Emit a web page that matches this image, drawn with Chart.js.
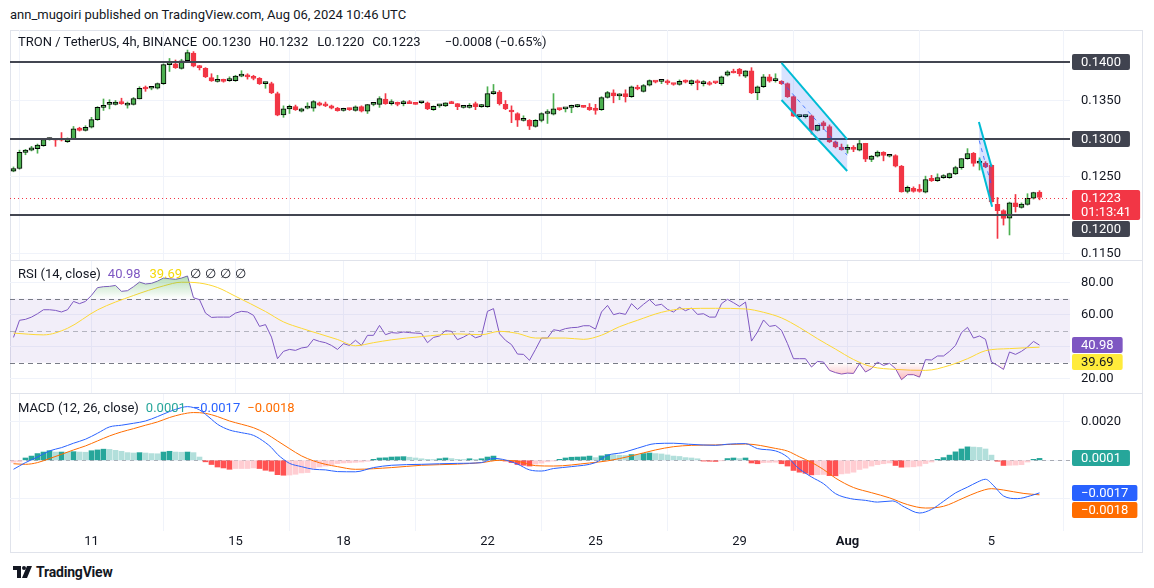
<!DOCTYPE html>
<html>
<head>
<meta charset="utf-8">
<script src="https://cdn.jsdelivr.net/npm/chart.js@4.4.1/dist/chart.umd.min.js"></script>
<style>
  body { margin: 0; background: #fff; width: 1154px; height: 588px; overflow: hidden;
         font-family: Roboto, "Noto Sans", sans-serif; color: #131722; }
  .abs { position: absolute; }
  canvas { position: absolute; left: 10px; }
  .lg { position: absolute; left: 18px; font-size: 13px; line-height: 18px; white-space: nowrap; }
  .lg span { margin-left: 7px; }
  .sep { position: absolute; left: 10px; width: 1133px; height: 1px; background: #e0e3eb; }
</style>
</head>
<body>
<div class="abs" style="left:10px;top:6px;font-size:13px;line-height:18px">ann_mugoiri published on TradingView.com, Aug 06, 2024 10:46 UTC</div>
<div class="abs" style="left:10px;top:30px;width:1133px;height:523px;border:1px solid #e0e3eb;box-sizing:border-box"></div>

<canvas id="main" width="1133" height="230" style="top:30px"></canvas>
<canvas id="rsi" width="1133" height="133" style="top:260px"></canvas>
<canvas id="macd" width="1133" height="160" style="top:393px"></canvas>
<div class="sep" style="top:260px"></div>
<div class="sep" style="top:393px"></div>

<div class="lg" style="top:33px">TRON / TetherUS, 4h, BINANCE<span style="margin-left:5px">O0.1230</span><span style="margin-left:8px">H0.1232</span><span style="margin-left:9px">L0.1220</span><span style="margin-left:8px">C0.1223</span><span style="margin-left:24px">−0.0008 (−0.65%)</span></div>
<div class="lg" style="top:265px">RSI (14, close)<span style="color:#7e57c2">40.98</span><span style="color:#f5d90a;margin-left:9px">39.69</span><span style="letter-spacing:4px;margin-left:8px">∅∅∅∅</span></div>
<div class="lg" style="top:399px">MACD (12, 26, close)<span style="color:#26a69a">0.0001</span><span style="color:#2962ff">−0.0017</span><span style="color:#ff6d00">−0.0018</span></div>

<div class="abs" style="left:13px;top:564px;display:flex;align-items:center;font-size:14px;font-weight:700;letter-spacing:-0.2px">
  <svg width="19" height="12" viewBox="0 0 19 12" style="margin-right:4px"><path d="M0 0h8v12H4V4H0z" fill="#131722"/><circle cx="11" cy="2" r="2" fill="#131722"/><path d="M14 0h5l-5 12H9z" fill="#131722"/></svg>TradingView
</div>

<script>
const FONT = 'Roboto, "Noto Sans", sans-serif';
Chart.defaults.font.family = FONT;

// x positions: one slot per 4h candle, day ticks at the 00:00 candle
const DAY_IDX = [13, 37, 55, 79, 97, 121, 139, 163];
const DAY_LABELS = ['11', '15', '18', '22', '25', '29', 'Aug', '5'];

const OPEN = [0.12575,0.1261,0.1282,0.1285,0.1287,0.1291,0.1299,0.1300,0.1299,0.1296,0.1300,0.1314,0.1311,0.1315,0.1325,0.1341,0.1345,0.1345,0.1348,0.1344,
0.1345,0.1352,0.1367,0.1366,0.1366,0.1372,0.1397,0.1398,0.1392,0.1402,0.1412,0.1395,0.1392,0.1380,0.1375,0.1377,0.1376,0.1376,0.1382,0.1383,
0.1381,0.1379,0.1372,0.1372,0.1359,0.1331,0.1339,0.1342,0.1336,0.1340,0.1340,0.1347,0.1344,0.1343,0.1340,0.1337,0.1339,0.1337,0.1342,0.1336,
0.1345,0.1345,0.1352,0.1346,0.1347,0.1346,0.1348,0.1346,0.1347,0.1347,0.1338,0.1343,0.1343,0.1348,0.1346,0.1341,0.1341,0.1346,0.1342,0.1342,
0.1359,0.1361,0.1345,0.1337,0.1333,0.1324,0.1324,0.1316,0.1324,0.1333,0.1332,0.1340,0.1339,0.1341,0.1342,0.1342,0.1341,0.1340,0.1338,0.1354,
0.1360,0.1356,0.1359,0.1355,0.1367,0.1362,0.1370,0.1375,0.1375,0.1375,0.1372,0.1371,0.1375,0.1372,0.1375,0.1372,0.1373,0.13735,0.1372,0.1383,
0.1388,0.1391,0.1382,0.1389,0.1360,0.1368,0.1381,0.1376,0.1375,0.1372,0.1355,0.1329,0.1329,0.1330,0.1311,0.1321,0.1316,0.1296,0.1289,0.1286,
0.1288,0.1285,0.1294,0.1273,0.1277,0.1282,0.1277,0.1278,0.1264,0.1231,0.1235,0.1234,0.1230,0.1248,0.1245,0.1249,0.1249,0.1254,0.1262,0.1274,
0.1281,0.1268,0.1268,0.1265,0.1214,0.1206,0.1196,0.1216,0.1210,0.1214,0.1222,0.1230];
const HIGH = [0.1263,0.1285,0.1286,0.1290,0.1293,0.1300,0.1301,0.1300,0.1308,0.1301,0.1316,0.1315,0.1317,0.1328,0.1342,0.1352,0.1351,0.1350,0.1353,0.1348,
0.1354,0.1368,0.1369,0.1368,0.1373,0.1398,0.1405,0.1403,0.1404,0.1416,0.1414,0.1396,0.1393,0.1385,0.1383,0.1378,0.1381,0.1383,0.1389,0.1385,
0.1383,0.1380,0.1374,0.1374,0.1361,0.1343,0.1344,0.1344,0.1340,0.1347,0.1350,0.1348,0.1348,0.1344,0.1341,0.1340,0.1340,0.1343,0.1343,0.1345,
0.1347,0.1355,0.1359,0.1351,0.1348,0.1350,0.1350,0.1346,0.1348,0.1348,0.1343,0.1345,0.1347,0.1349,0.1346,0.1342,0.1346,0.1348,0.1345,0.1368,
0.1371,0.1363,0.1350,0.1343,0.1334,0.1330,0.1325,0.1325,0.1334,0.1338,0.1359,0.1340,0.1340,0.1344,0.1345,0.1343,0.1346,0.1345,0.1355,0.1362,
0.1364,0.1359,0.1364,0.1369,0.1370,0.1371,0.1377,0.1375,0.1377,0.1377,0.1372,0.1377,0.1377,0.1377,0.1377,0.1376,0.1375,0.1374,0.1382,0.1389,
0.1391,0.1392,0.1389,0.1393,0.1369,0.1384,0.1384,0.1385,0.1376,0.1373,0.1356,0.1330,0.1331,0.1331,0.1318,0.1323,0.1318,0.1297,0.1293,0.1292,
0.1291,0.1298,0.1294,0.1278,0.1284,0.1283,0.1278,0.1279,0.1265,0.1238,0.1237,0.1240,0.1251,0.1252,0.1254,0.1253,0.1255,0.1264,0.1274,0.1287,
0.1282,0.1275,0.1270,0.1266,0.1223,0.1207,0.1217,0.1227,0.1216,0.1228,0.1230,0.1232];
const LOW = [0.12567,0.1260,0.1279,0.1284,0.1281,0.1290,0.1298,0.1290,0.1297,0.1295,0.1299,0.1310,0.1310,0.1314,0.1324,0.1337,0.1339,0.1344,0.1345,0.1340,
0.1344,0.1352,0.1362,0.1364,0.1365,0.1371,0.1388,0.1392,0.1391,0.1401,0.1394,0.1390,0.1380,0.1375,0.1374,0.1374,0.1375,0.1375,0.1381,0.1378,
0.1377,0.1371,0.1366,0.1359,0.1330,0.1328,0.1333,0.1337,0.1335,0.1339,0.1336,0.1343,0.1342,0.1339,0.1336,0.1336,0.1337,0.1336,0.1335,0.1333,
0.1343,0.1341,0.1345,0.1344,0.1343,0.1343,0.1346,0.1345,0.1346,0.1338,0.1337,0.1341,0.1342,0.1346,0.1338,0.1340,0.1340,0.1338,0.1341,0.1341,
0.1358,0.1344,0.1338,0.1321,0.1316,0.1323,0.1312,0.1315,0.1322,0.1320,0.1331,0.1337,0.1335,0.1334,0.1341,0.1341,0.1337,0.1332,0.1337,0.1353,
0.1347,0.1351,0.1348,0.1354,0.1364,0.1361,0.1369,0.1373,0.1372,0.1371,0.1370,0.1370,0.1373,0.1370,0.1364,0.1369,0.1370,0.1372,0.1370,0.1382,
0.1386,0.1382,0.1380,0.1359,0.1351,0.1367,0.1374,0.1374,0.1371,0.1354,0.1329,0.1328,0.1327,0.1306,0.1310,0.1312,0.1295,0.1288,0.1285,0.1281,
0.1283,0.1284,0.1270,0.1270,0.1276,0.1271,0.1276,0.1263,0.1230,0.1229,0.1230,0.1230,0.1229,0.1244,0.1244,0.1248,0.1248,0.1253,0.1260,0.1273,
0.1264,0.1259,0.1262,0.1216,0.11695,0.1187,0.1174,0.1204,0.1209,0.1213,0.1221,0.1220];
const CLOSE = [0.1261,0.1282,0.1285,0.1288,0.12915,0.1299,0.1300,0.1298,0.1298,0.1300,0.1313,0.1311,0.1315,0.1325,0.1341,0.1343,0.1345,0.1348,0.1346,0.1345,
0.13525,0.1366,0.1365,0.1366,0.1372,0.1397,0.1398,0.1393,0.1402,0.14126,0.1395,0.1393,0.1381,0.13756,0.1376,0.1375,0.1377,0.1382,0.1383,0.1381,
0.1379,0.1372,0.1372,0.1360,0.13307,0.1339,0.13425,0.1338,0.1339,0.1340,0.13486,0.1344,0.1343,0.1340,0.13368,0.1339,0.1338,0.13416,0.1336,0.13447,
0.1345,0.13525,0.1346,0.1346,0.1345,0.1347,0.1346,0.1345,0.1347,0.1339,0.13425,0.1343,0.13468,0.1346,0.1342,0.1341,0.1343,0.1342,0.1342,0.1359,
0.13617,0.1346,0.1339,0.1335,0.13242,0.1325,0.13163,0.1324,0.13329,0.1333,0.1339,0.1338,0.1339,0.1341,0.1342,0.1341,0.1338,0.1337,0.13538,0.13603,
0.1356,0.1356,0.1355,0.13678,0.1365,0.13695,0.1376,0.1374,0.1375,0.1373,0.1371,0.1375,0.1374,0.1376,0.1373,0.1372,0.1371,0.1373,0.1381,0.13874,
0.1386,0.1385,0.13887,0.1360,0.13678,0.1381,0.13752,0.1376,0.1372,0.1355,0.13294,0.1329,0.1329,0.13111,0.13176,0.1317,0.12959,0.12893,0.12858,0.1286,
0.1286,0.12937,0.12732,0.12771,0.12824,0.1278,0.1277,0.1264,0.12305,0.12362,0.1231,0.1231,0.12466,0.1245,0.12492,0.1249,0.12545,0.12623,0.12741,0.12806,
0.12675,0.1268,0.12632,0.12174,0.12057,0.11956,0.12161,0.1211,0.12144,0.12218,0.12296,0.1223];

const LEVELS = [0.1400, 0.1300, 0.1200];
const LAST_PRICE = 0.1223;
const COUNTDOWN = '01:13:41';
// parallel channels drawn on the chart: [candle index, price]
const CHANNELS = [
  { top: [[128, 0.13992], [138.95, 0.12992]], bottom: [[128, 0.13507], [138.95, 0.12577]] },
  { top: [[160.9, 0.13219], [163.0, 0.12634]], bottom: [[161.0, 0.12734], [163.1, 0.1211]] }
];

const RSI = [45.8,56.5,57.1,58.5,60.6,63.1,63.1,62.7,61.7,63.1,68.3,66.9,68.3,72.1,76.9,77.5,77.7,78.3,74.6,75,
77.5,80.4,79.2,79.6,81,82.9,82.5,82.1,82.9,84.2,70.6,69.4,61,58.3,58.5,58.5,58.5,61,62.1,61.7,
59.6,52.7,53.8,46,32.5,37.1,38.3,37.7,39.2,39.8,44.6,43.3,42.5,40.8,38.3,41.9,40.8,44,40.8,47.1,
47.1,53.3,47.5,48.8,48.5,49.2,48.8,48.5,48.3,42.5,45.8,46.7,50,49.6,44.4,46,48.1,45.6,46.7,62.1,
63.8,48.1,44,41.3,35.4,35.2,31.5,38.3,45.4,45.4,50.6,50,51.3,51.9,52.1,53.1,53.1,51,61.7,65.8,
60,61,60.2,66.9,63.3,66.5,69.4,65.8,66.5,63.3,61.7,64.6,62.5,64.2,60.2,60.6,58.5,58.5,66.9,69.6,
67.5,65.2,67.9,43.5,49.2,56.7,52.7,53.3,50.2,41.9,32.5,32.5,32.5,27.3,30.8,30.4,25.2,23.8,22.9,23.5,
23.3,29.4,24.2,26.3,30.4,28.3,29.6,26.3,19.4,22.5,22.5,21,31.9,31.7,34.2,34.2,37.1,40.8,48.8,52.1,
45.4,46.7,44.6,30.4,28.3,25.8,36.7,35.2,37.1,39.8,43.3,40.98];
const RSI_MA = [[0,48.5],[5,47.4],[9,51.5],[14,63],[20,72],[25,78],[28,80.3],[31,79.8],[34,77],[37,71.5],[42,62],[45,55.5],
[48,51.5],[51,48],[54,44.5],[57,40.6],[60,42.5],[63,44.3],[68,46.3],[74,48],[78,47.5],[81,49.6],[84,48.3],[87,45.4],[92,45.4],
[95,44.6],[98,47.2],[101,52.5],[104,56.5],[108,61.5],[112,63.8],[117,64],[122,63.6],[125,61.5],[128,58],[131,52],[134,45],
[137,38.5],[140,32],[143,27.5],[147,25.8],[152,25.2],[156,28.3],[159,32.5],[162,37.5],[166,38.8],[171,39.69]];

const MACD = [[0,-0.00047],[2,-0.00012],[4,0.00017],[6,0.00049],[8,0.00066],[10,0.00089],[12,0.0011],[14,0.00141],[16,0.00174],
[18,0.00183],[20,0.00193],[22,0.00205],[24,0.00228],[26,0.00254],[28,0.00275],[29,0.0028],[30,0.00275],[31,0.00263],[32,0.0024],
[33,0.00214],[34,0.00188],[36,0.00158],[38,0.00144],[40,0.0013],[42,0.00092],[43,0.00066],[44,0.00031],[45,0.00005],[46,-0.00016],
[48,-0.00033],[50,-0.00047],[52,-0.0005],[54,-0.00059],[57,-0.0006],[60,-0.00038],[63,-0.00026],[68,-0.00021],[74,-0.00016],
[78,-0.00012],[80,0.0001],[81.5,0.00005],[84,-0.0002],[86,-0.0005],[88,-0.00056],[90,-0.00043],[93,-0.00033],[97,-0.00012],
[99,0.00026],[101.5,0.0004],[104,0.00063],[107,0.00087],[110,0.00089],[112.5,0.00084],[117,0.00078],[119,0.00084],[122,0.00087],
[124,0.00061],[127,0.00049],[129,0.00017],[130.6,-0.00035],[133,-0.00087],[135,-0.00122],[137,-0.00174],[139.5,-0.002],[142,-0.00209],
[144,-0.00218],[146.5,-0.00212],[148.5,-0.00244],[151,-0.00275],[153,-0.00256],[155,-0.00214],[157,-0.0017],[159,-0.0014],
[160.7,-0.00113],[162,-0.00099],[163.4,-0.00134],[165,-0.00186],[167.3,-0.002],[169.5,-0.00185],[171,-0.0017]];
const SIGNAL = [[0,-0.00018],[2,-0.00021],[4,-0.00012],[6,0.00009],[8,0.00031],[10,0.00054],[12,0.00075],[14,0.00101],[16,0.00127],
[18,0.00148],[20,0.00165],[22,0.00183],[24,0.002],[26,0.00223],[28,0.0024],[30,0.00249],[32,0.00245],[34,0.00228],[36,0.00205],
[38,0.00188],[40,0.0017],[42,0.00141],[44,0.00101],[46,0.00061],[48,0.00023],[50,-0.00003],[52,-0.00021],[54,-0.00033],[57,-0.00047],
[63,-0.00038],[68,-0.00026],[74,-0.0002],[78,-0.00012],[81,0],[84,-0.00005],[87,-0.00028],[90,-0.0003],[96,-0.00014],[99,-0.00003],
[103,0.00023],[107,0.00054],[110,0.00071],[113,0.00078],[117,0.0008],[122,0.00085],[127,0.00062],[129,0.00048],[131,0.00018],
[133,-0.00011],[135,-0.00048],[137,-0.00093],[140,-0.00142],[143,-0.00169],[146,-0.00196],[149,-0.00231],[152,-0.00249],
[155,-0.0024],[158.4,-0.00196],[160.7,-0.00166],[163,-0.00148],[165,-0.00155],[168.4,-0.00173],[171,-0.0018]];
const HIST = [-0.0001,-0.00008,0.00012,0.00022,0.00035,0.00043,0.0005,0.00043,0.00043,0.00042,0.00045,0.00043,0.00042,0.0005,0.00054,0.00058,0.00057,0.00052,0.00047,0.0004,
0.00038,0.0004,0.00038,0.00035,0.00034,0.00043,0.00047,0.00043,0.00042,0.00043,0.0004,0.00017,-0.00008,-0.00022,-0.00035,-0.0004,-0.00047,-0.00043,-0.00043,-0.00043,
-0.0004,-0.00043,-0.00052,-0.00057,-0.00075,-0.00078,-0.00077,-0.00073,-0.00066,-0.00064,-0.00043,-0.00035,-0.0003,-0.00023,-0.00017,-0.00014,-0.00013,-0.00011,-0.00009,-0.00005,
0.00005,0.00012,0.00013,0.00017,0.00018,0.00019,0.00016,0.00012,0.00008,0.00005,0.00004,0.00008,0.00012,0.00009,0.00005,0.00004,0.00008,0.00005,0.00008,0.00017,
0.00022,0.00003,-0.00004,-0.00012,-0.00022,-0.00026,-0.0003,-0.0002,-0.00015,-0.00008,-0.00004,0.00005,0.00012,0.00016,0.00017,0.00018,0.00022,0.00014,0.00023,0.0003,
0.00029,0.00026,0.00025,0.0003,0.00029,0.00035,0.00038,0.00035,0.00033,0.00028,0.00022,0.0002,0.00014,0.00012,0.00008,-0.00004,-0.00005,-0.00006,-0.00002,0.00009,
0.00012,0.00009,0.00012,-0.00014,-0.00018,-0.00012,-0.00011,-0.0001,-0.00018,-0.0003,-0.00053,-0.00062,-0.00068,-0.00076,-0.00075,-0.00074,-0.0008,-0.00081,-0.00071,-0.00068,
-0.00062,-0.00048,-0.00041,-0.0003,-0.00023,-0.00018,-0.00014,-0.00027,-0.00036,-0.00035,-0.00034,-0.0003,-0.00017,-0.00009,0.00005,0.00014,0.00027,0.00044,0.00059,0.0007,
0.00069,0.00067,0.00059,0.00027,-0.00005,-0.00027,-0.00026,-0.00025,-0.00023,-0.00009,0.00005,0.0001];

const GREEN = '#4caf50', RED = '#f23645';
const X_MIN = -0.5833, X_MAX = 176.0833;

const xAxis = (labels) => ({
  type: 'linear', min: X_MIN, max: X_MAX, offset: false,
  afterBuildTicks: s => { s.ticks = DAY_IDX.map(v => ({ value: v })); },
  ticks: {
    display: labels, autoSkip: false, maxRotation: 0, padding: 3, color: '#131722',
    font: c => ({ family: FONT, size: 13, weight: c.tick && c.tick.label === 'Aug' ? 'bold' : 'normal' }),
    callback: v => DAY_LABELS[DAY_IDX.indexOf(v)]
  },
  grid: { color: '#f0f3fa', drawTicks: false },
  border: { display: false },
  afterFit: s => { s.height = labels ? 22 : 0; }
});
const yAxis = (min, max, grid) => ({
  position: 'right', min, max,
  afterBuildTicks: s => { s.ticks = grid.map(v => ({ value: v })); },
  ticks: { display: false },
  grid: { color: '#f0f3fa', drawTicks: false },
  border: { display: false },
  afterFit: s => { s.width = 73; }
});

function axisLabels(plain, boxes, fmt) {
  return {
    id: 'axisLabels',
    afterDraw(chart) {
      const { ctx, chartArea: a, scales: { y } } = chart;
      const x0 = a.right + 2;
      ctx.save();
      ctx.font = '13px ' + FONT;
      ctx.textBaseline = 'middle';
      ctx.fillStyle = '#131722';
      plain.forEach(v => ctx.fillText(fmt(v), x0 + 9, y.getPixelForValue(v)));
      let bottom = -1e9;
      boxes.forEach(b => {
        const h = b.lines.length > 1 ? 30 : 16;
        const top = Math.max(Math.round(y.getPixelForValue(b.value)) - 8, bottom + 1);
        const w = Math.max(...b.lines.map(t => ctx.measureText(t).width)) + 18;
        ctx.fillStyle = b.bg;
        ctx.beginPath(); ctx.roundRect(x0, top, w, h, 2); ctx.fill();
        ctx.fillStyle = b.fg;
        b.lines.forEach((t, k) => ctx.fillText(t, x0 + 9, top + 8.5 + k * 14));
        bottom = top + h;
      });
      ctx.restore();
    }
  };
}

const base = {
  responsive: false, devicePixelRatio: 1, animation: false, events: [],
  layout: { padding: 0 },
};
const noPlugins = { legend: { display: false }, tooltip: { enabled: false } };

// ---- price pane ----
const up = CLOSE.map((c, i) => c >= OPEN[i]);
const mainDraw = {
  id: 'mainDraw',
  afterDatasetsDraw(chart) {
    const { ctx, chartArea: a, scales: { x, y } } = chart;
    ctx.save();
    const yl = Math.round(y.getPixelForValue(LAST_PRICE)) + 0.5;
    ctx.strokeStyle = RED; ctx.lineWidth = 1; ctx.setLineDash([1, 3]);
    ctx.beginPath(); ctx.moveTo(a.left, yl); ctx.lineTo(a.right, yl); ctx.stroke();
    ctx.setLineDash([]);
    ctx.strokeStyle = '#434651'; ctx.lineWidth = 2;
    LEVELS.forEach(p => {
      const yy = Math.round(y.getPixelForValue(p));
      ctx.beginPath(); ctx.moveTo(a.left, yy); ctx.lineTo(a.right, yy); ctx.stroke();
    });
    const P = pt => [x.getPixelForValue(pt[0]), y.getPixelForValue(pt[1])];
    CHANNELS.forEach(ch => {
      const t1 = P(ch.top[0]), t2 = P(ch.top[1]), b1 = P(ch.bottom[0]), b2 = P(ch.bottom[1]);
      ctx.fillStyle = 'rgba(41,98,255,0.18)';
      ctx.beginPath(); ctx.moveTo(...t1); ctx.lineTo(...t2); ctx.lineTo(...b2); ctx.lineTo(...b1); ctx.closePath(); ctx.fill();
      ctx.strokeStyle = 'rgba(41,98,255,0.8)'; ctx.lineWidth = 1; ctx.setLineDash([4, 4]);
      ctx.beginPath();
      ctx.moveTo((t1[0] + b1[0]) / 2, (t1[1] + b1[1]) / 2);
      ctx.lineTo((t2[0] + b2[0]) / 2, (t2[1] + b2[1]) / 2);
      ctx.stroke();
      ctx.setLineDash([]);
      ctx.strokeStyle = '#00bcd4'; ctx.lineWidth = 2;
      ctx.beginPath(); ctx.moveTo(...t1); ctx.lineTo(...t2); ctx.stroke();
      ctx.beginPath(); ctx.moveTo(...b1); ctx.lineTo(...b2); ctx.stroke();
    });
    ctx.restore();
  }
};

new Chart(document.getElementById('main'), {
  type: 'bar',
  data: {
    datasets: [
      {
        label: 'wick', order: 2, grouped: false, barThickness: 1,
        data: LOW.map((l, i) => ({ x: i, y: [l, HIGH[i]] })),
        backgroundColor: up.map(u => u ? GREEN : RED)
      },
      {
        label: 'body', order: 1, grouped: false, barThickness: 5, minBarLength: 2,
        data: OPEN.map((o, i) => ({ x: i, y: [o, CLOSE[i]] })),
        backgroundColor: up.map(u => u ? GREEN : RED),
        borderColor: up.map(u => u ? '#000000' : RED),
        borderWidth: 1, borderSkipped: false
      }
    ]
  },
  options: {
    ...base,
    scales: {
      x: xAxis(false),
      y: yAxis(0.114123, 0.144228, [0.115, 0.125, 0.135])
    },
    plugins: noPlugins
  },
  plugins: [mainDraw, axisLabels([0.135, 0.125, 0.115], [
    { value: 0.14, lines: ['0.1400'], bg: '#40434f', fg: '#ffffff' },
    { value: 0.13, lines: ['0.1300'], bg: '#40434f', fg: '#ffffff' },
    { value: LAST_PRICE, lines: [LAST_PRICE.toFixed(4), COUNTDOWN], bg: RED, fg: '#ffffff' },
    { value: 0.12, lines: ['0.1200'], bg: '#40434f', fg: '#ffffff' }
  ], v => v.toFixed(4))]
});

// ---- RSI pane ----
const rsiBand = {
  id: 'rsiBand',
  beforeDatasetsDraw(chart) {
    const { ctx, chartArea: a, scales: { y } } = chart;
    const y70 = y.getPixelForValue(70), y30 = y.getPixelForValue(30), y50 = y.getPixelForValue(50);
    ctx.save();
    ctx.fillStyle = 'rgba(126,87,194,0.1)';
    ctx.fillRect(a.left, y70, a.right - a.left, y30 - y70);
    ctx.setLineDash([5, 4]); ctx.lineWidth = 1;
    ctx.strokeStyle = '#787b86';
    [y70, y30].forEach(yy => { ctx.beginPath(); ctx.moveTo(a.left, Math.round(yy) + 0.5); ctx.lineTo(a.right, Math.round(yy) + 0.5); ctx.stroke(); });
    ctx.strokeStyle = 'rgba(120,123,134,0.5)';
    ctx.beginPath(); ctx.moveTo(a.left, Math.round(y50) + 0.5); ctx.lineTo(a.right, Math.round(y50) + 0.5); ctx.stroke();
    ctx.restore();
  }
};
const grad = (chart, v1, c1, v2, c2) => {
  const y = chart.scales.y;
  if (!y || !chart.chartArea) return c2;
  const g = chart.ctx.createLinearGradient(0, y.getPixelForValue(v1), 0, y.getPixelForValue(v2));
  g.addColorStop(0, c1); g.addColorStop(1, c2);
  return g;
};
const rsiPts = RSI.map((v, i) => ({ x: i, y: v }));

new Chart(document.getElementById('rsi'), {
  type: 'line',
  data: {
    datasets: [
      {
        data: rsiPts, borderWidth: 0, pointRadius: 0,
        backgroundColor: c => grad(c.chart, 85, 'rgba(76,175,80,0.45)', 70, 'rgba(76,175,80,0)'),
        fill: { target: { value: 70 }, below: 'rgba(0,0,0,0)' }
      },
      {
        data: rsiPts, borderWidth: 0, pointRadius: 0,
        backgroundColor: c => grad(c.chart, 30, 'rgba(242,54,69,0)', 18, 'rgba(242,54,69,0.4)'),
        fill: { target: { value: 30 }, above: 'rgba(0,0,0,0)' }
      },
      {
        data: RSI_MA.map(p => ({ x: p[0], y: p[1] })), borderColor: '#fdd835', borderWidth: 1,
        pointRadius: 0, cubicInterpolationMode: 'monotone', fill: false
      },
      {
        data: rsiPts, borderColor: '#7e57c2', borderWidth: 1, pointRadius: 0, tension: 0, fill: false
      }
    ]
  },
  options: {
    ...base,
    scales: { x: xAxis(false), y: yAxis(11.06, 94.19, [20, 40, 60, 80]) },
    plugins: noPlugins
  },
  plugins: [rsiBand, axisLabels([80, 60, 20], [
    { value: 40.98, lines: ['40.98'], bg: '#7e57c2', fg: '#ffffff' },
    { value: 39.69, lines: ['39.69'], bg: '#ffeb3b', fg: '#131722' }
  ], v => v.toFixed(2))]
});

// ---- MACD pane ----
const histColors = HIST.map((h, i) => {
  const p = i > 0 ? HIST[i - 1] : h;
  if (h >= 0) return h >= p ? '#26a69a' : '#b2dfdb';
  return h < p ? '#ff5252' : '#ffcdd2';
});
const zeroLine = {
  id: 'zeroLine',
  beforeDatasetsDraw(chart) {
    const { ctx, chartArea: a, scales: { y } } = chart;
    const yy = Math.round(y.getPixelForValue(0)) + 0.5;
    ctx.save();
    ctx.strokeStyle = 'rgba(120,123,134,0.6)'; ctx.setLineDash([4, 4]); ctx.lineWidth = 1;
    ctx.beginPath(); ctx.moveTo(a.left, yy); ctx.lineTo(a.right, yy); ctx.stroke();
    ctx.restore();
  }
};
const minus = v => (v < 0 ? '−' : '') + Math.abs(v).toFixed(4);

new Chart(document.getElementById('macd'), {
  type: 'bar',
  data: {
    datasets: [
      {
        type: 'line', order: 1, data: MACD.map(p => ({ x: p[0], y: p[1] })),
        borderColor: '#2962ff', borderWidth: 1, pointRadius: 0, cubicInterpolationMode: 'monotone'
      },
      {
        type: 'line', order: 2, data: SIGNAL.map(p => ({ x: p[0], y: p[1] })),
        borderColor: '#ff6d00', borderWidth: 1, pointRadius: 0, cubicInterpolationMode: 'monotone'
      },
      {
        order: 3, grouped: false, barThickness: 5,
        data: HIST.map((h, i) => ({ x: i, y: h })),
        backgroundColor: histColors
      }
    ]
  },
  options: {
    ...base,
    scales: { x: xAxis(true), y: yAxis(-0.003688, 0.00351, [-0.002, 0, 0.002]) },
    plugins: noPlugins
  },
  plugins: [zeroLine, axisLabels([0.002], [
    { value: 0.0001, lines: ['0.0001'], bg: '#26a69a', fg: '#ffffff' },
    { value: -0.0017, lines: [minus(-0.0017)], bg: '#2962ff', fg: '#ffffff' },
    { value: -0.0018, lines: [minus(-0.0018)], bg: '#ff6d00', fg: '#ffffff' }
  ], v => v.toFixed(4))]
});
</script>
</body>
</html>
